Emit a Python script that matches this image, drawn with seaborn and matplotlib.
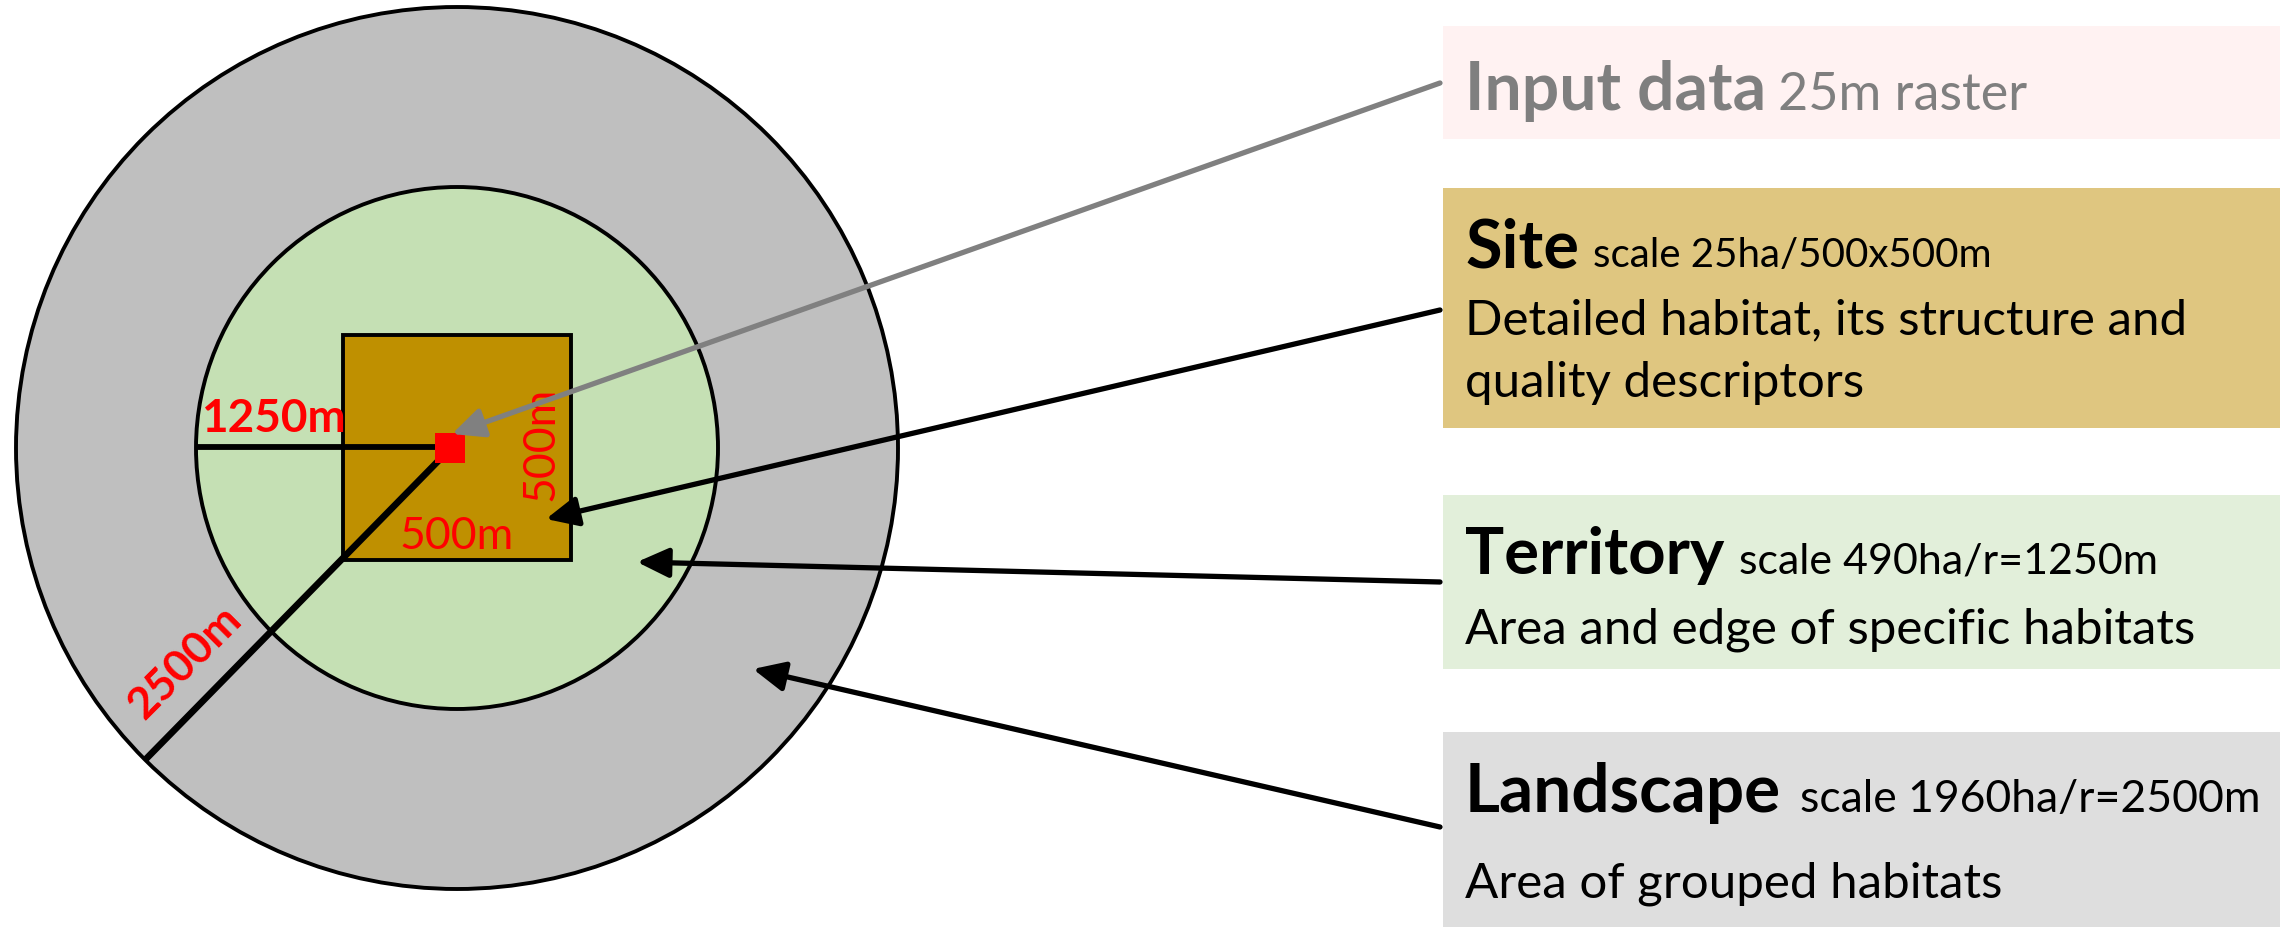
import matplotlib.pyplot as plt
import matplotlib.patches as mpatches
import seaborn as sns

# Levels of the nested scale scheme (boxes on the right)
levels = ["Input data", "Site", "Territory", "Landscape"]
level_scales = ["25m raster", "scale 25ha/500x500m", "scale 490ha/r=1250m", "scale 1960ha/r=2500m"]
level_notes = ["",
               "Detailed habitat, its structure and\nquality descriptors",
               "Area and edge of specific habitats",
               "Area of grouped habitats"]

# Distance labels drawn on the diagram
radius_labels = ["1250m", "2500m"]
site_side_labels = ["500m", "500m"]

sns.set_theme(style="white")
plt.rcParams['font.family'] = ['Lato', 'DejaVu Sans']

W, H = 2290, 927
fig = plt.figure(figsize=(W / 100, H / 100), dpi=100)
ax = fig.add_axes([0, 0, 1, 1])
ax.set_xlim(0, W)
ax.set_ylim(H, 0)
ax.axis('off')

# diagram layout (pixels)
cx, cy = 457, 448
r_out, r_in = 441, 261
red = '#FF0000'

ax.add_patch(mpatches.Circle((cx, cy), r_out, fc='#BFBFBF', ec='black', lw=2.8, zorder=1))
ax.add_patch(mpatches.Circle((cx, cy), r_in, fc='#C5E0B4', ec='black', lw=2.8, zorder=2))
ax.add_patch(mpatches.Rectangle((343, 335), 228, 225, fc='#BF9000', ec='black', lw=2.8, zorder=3))

# radius lines
ax.plot([cx - r_in, 440], [447, 447], color='black', lw=4.2, zorder=4, solid_capstyle='butt')
d = r_out * 0.7071
ax.plot([447, cx - d], [452, cy + d], color='black', lw=4.8, zorder=4, solid_capstyle='butt')

# the 25m input cell
sns.scatterplot(x=[450], y=[448], marker='s', s=440, color=red, edgecolor='none',
                zorder=5, ax=ax, legend=False)

# distance labels
ax.text(273, 432, radius_labels[0], color=red, fontsize=33, fontweight='bold',
        ha='center', va='baseline', zorder=6)
ax.text(185, 662, radius_labels[1], color=red, fontsize=32, fontweight='bold',
        rotation=45, rotation_mode='anchor', ha='center', va='center', zorder=6)
ax.text(457, 549, site_side_labels[0], color=red, fontsize=32,
        ha='center', va='baseline', zorder=6)
ax.text(553, 444, site_side_labels[1], color=red, fontsize=32, rotation=90,
        rotation_mode='anchor', ha='center', va='baseline', zorder=6)

# boxes on the right
box_left, box_right = 1443, 2280
box_tops = [26, 188, 495, 732]
box_bottoms = [139, 428, 669, 927]
box_colors = ['#FFF2F2', '#DFC680', '#E2EFDA', '#DEDEDE']
title_colors = ['#7F7F7F', 'black', 'black', 'black']
title_base = [110, 267, 574, 812]
note_base = [0, 334, 643, 898]
title_sizes = [47.5, 48, 47, 48.5]
scale_sizes = [37.5, 29, 31, 32]
text_x = 1465

titles = []
for i, name in enumerate(levels):
    ax.add_patch(mpatches.Rectangle((box_left, box_tops[i]), box_right - box_left,
                                    box_bottoms[i] - box_tops[i], fc=box_colors[i],
                                    ec='none', zorder=1))
    t = ax.text(text_x, title_base[i], name, color=title_colors[i], fontsize=title_sizes[i],
                fontweight='bold', ha='left', va='baseline', zorder=6)
    titles.append(t)
    if level_notes[i]:
        for j, line in enumerate(level_notes[i].split("\n")):
            ax.text(text_x, note_base[i] + 63 * j, line, color='black', fontsize=35.5,
                    ha='left', va='baseline', zorder=6)

fig.canvas.draw()
renderer = fig.canvas.get_renderer()
inv = ax.transData.inverted()
gaps = [12, 14, 15, 19]
for i, t in enumerate(titles):
    bb = t.get_window_extent(renderer)
    x_end = inv.transform((bb.x1, bb.y0))[0]
    ax.text(x_end + gaps[i], title_base[i], level_scales[i], color=title_colors[i],
            fontsize=scale_sizes[i], ha='left', va='baseline', zorder=6)

# pointer arrows from each box to its part of the diagram
arrow_from = [(1440, 83), (1440, 310), (1440, 582), (1440, 827)]
arrow_to = [(452, 434), (546, 519), (637, 562), (753, 669)]
arrow_colors = ['#808080', 'black', 'black', 'black']
for i in range(len(levels)):
    ax.annotate("", xy=arrow_to[i], xytext=arrow_from[i], zorder=7,
                arrowprops=dict(arrowstyle='-|>,head_length=0.6,head_width=0.28',
                                mutation_scale=32, lw=3.8, color=arrow_colors[i],
                                shrinkA=0, shrinkB=0))

ax.set_xlim(0, W)
ax.set_ylim(H, 0)
fig.savefig('out.png', dpi=100)
